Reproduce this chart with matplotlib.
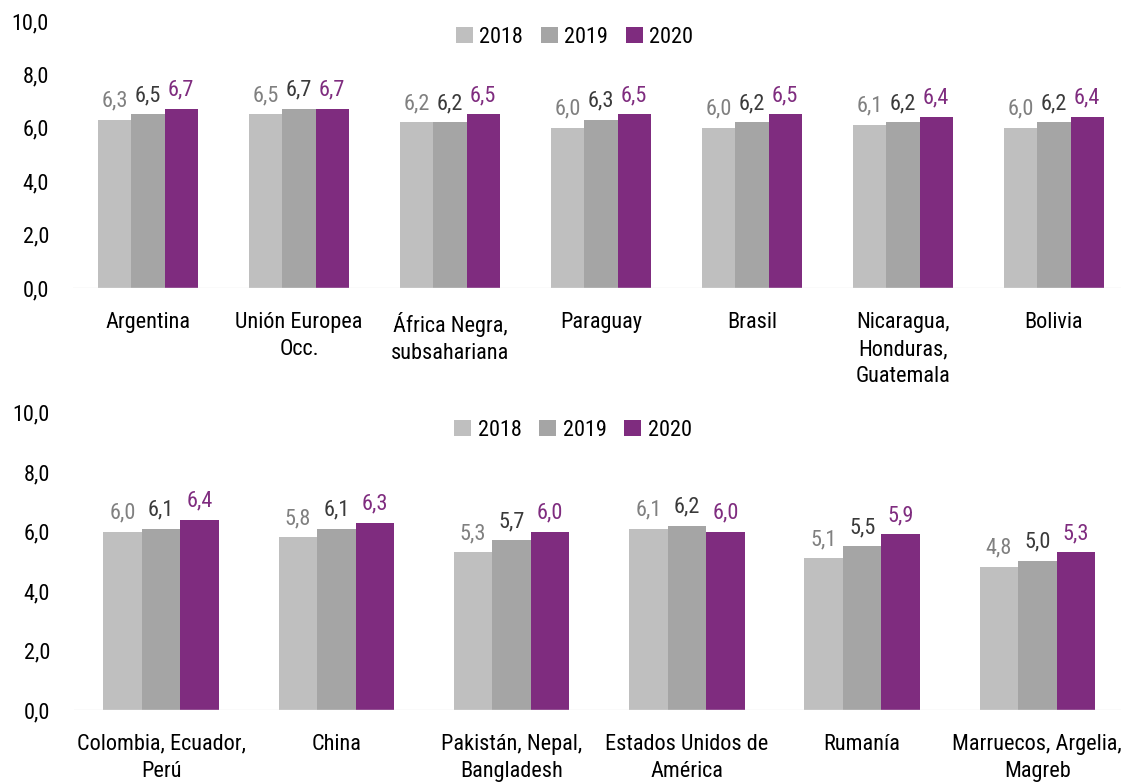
import matplotlib
matplotlib.use("Agg")
import matplotlib.pyplot as plt
import numpy as np
from matplotlib.patches import Patch

plt.rcParams["font.family"] = ["Roboto Condensed", "DejaVu Sans"]

years = ["2018", "2019", "2020"]
bar_colors = ["#BFBFBF", "#A5A5A5", "#7F2C7F"]
label_colors = ["#808080", "#3A3A3A", "#7F2C7F"]

top_categories = [
    "Argentina",
    "Unión Europea\nOcc.",
    "África Negra,\nsubsahariana",
    "Paraguay",
    "Brasil",
    "Nicaragua,\nHonduras,\nGuatemala",
    "Bolivia",
]
top_2018 = [6.3, 6.5, 6.2, 6.0, 6.0, 6.1, 6.0]
top_2019 = [6.5, 6.7, 6.2, 6.3, 6.2, 6.2, 6.2]
top_2020 = [6.7, 6.7, 6.5, 6.5, 6.5, 6.4, 6.4]

bottom_categories = [
    "Colombia, Ecuador,\nPerú",
    "China",
    "Pakistán, Nepal,\nBangladesh",
    "Estados Unidos de\nAmérica",
    "Rumanía",
    "Marruecos, Argelia,\nMagreb",
]
bottom_2018 = [6.0, 5.8, 5.3, 6.1, 5.1, 4.8]
bottom_2019 = [6.1, 6.1, 5.7, 6.2, 5.5, 5.0]
bottom_2020 = [6.4, 6.3, 6.0, 6.0, 5.9, 5.3]

W, H = 1121, 783
FS = 16
fig = plt.figure(figsize=(W / 100, H / 100), dpi=100)


def px_axes(x0, x1, y_top, y_bottom):
    return fig.add_axes([x0 / W, 1 - y_bottom / H, (x1 - x0) / W, (y_bottom - y_top) / H])


def draw_panel(ax, cats, series, legend_y):
    x = np.arange(len(cats))
    bw = 0.22
    for i, vals in enumerate(series):
        pos = x + (i - 1) * bw
        ax.bar(pos, vals, width=bw, color=bar_colors[i], edgecolor="none")
        for p, v in zip(pos, vals):
            ax.annotate(f"{v:.1f}".replace(".", ","), (p, v), xytext=(0, 6),
                        textcoords="offset points", ha="center", va="bottom",
                        fontsize=FS, color=label_colors[i])
    ax.set_xlim(-0.5, len(cats) - 0.5)
    ax.set_ylim(0, 10)
    ax.set_yticks(np.arange(0, 11, 2))
    ax.set_yticklabels([f"{t:.1f}".replace(".", ",") for t in np.arange(0, 11, 2)])
    ax.set_xticks(x)
    ax.set_xticklabels(cats, linespacing=1.4)
    ax.tick_params(axis="both", length=0, labelsize=FS)
    ax.tick_params(axis="y", pad=17)
    ax.tick_params(axis="x", pad=17)
    for s in ax.spines.values():
        s.set_visible(False)
    ax.axhline(0, color="#E6E6E6", lw=1)
    handles = [Patch(facecolor=c, edgecolor="none") for c in bar_colors]
    ax.legend(handles, years, loc="center", bbox_to_anchor=(0.475, legend_y),
              ncol=3, frameon=False, fontsize=FS, handlelength=0.75,
              handleheight=0.75, handletextpad=0.3, columnspacing=0.8)


ax1 = px_axes(72.5, 1129.5, 21, 288)
draw_panel(ax1, top_categories, [top_2018, top_2019, top_2020], 0.94)

ax2 = px_axes(73.5, 1125, 412.5, 710)
draw_panel(ax2, bottom_categories, [bottom_2018, bottom_2019, bottom_2020], 0.94)

fig.savefig("out.png", dpi=100)
